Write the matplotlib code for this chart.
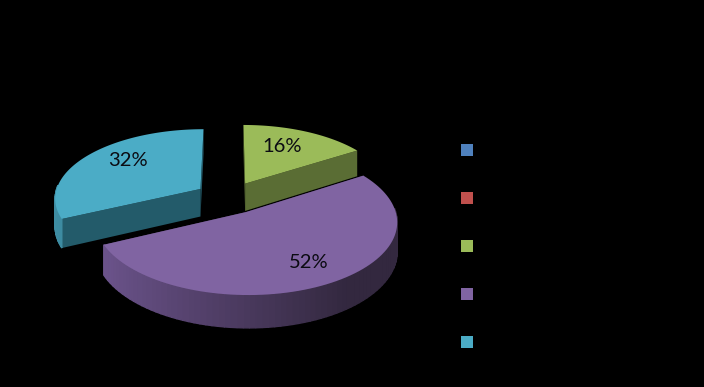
import numpy as np
import matplotlib
matplotlib.use("Agg")
import matplotlib.pyplot as plt

values = [0, 0, 16, 52, 32]
labels = ["", "", "16%", "52%", "32%"]
colors = ["#4F81BD", "#C0504D", "#9BBB59", "#8064A2", "#4BACC6"]
cut_colors = ["#2F4D71", "#73302E", "#5A6D34", "#4A3A5E", "#235B6A"]
side_left = ["#3F6797", "#9A403E", "#7C9647", "#6F5690", "#3E8DA3"]
side_right = ["#2A4565", "#662B29", "#4C5C2C", "#33283F", "#2A6D80"]
label_pos = [None, None, (282, 146), (309, 262), (128, 160)]
legend_y = [150, 198, 246, 294, 342]

# pie geometry, in pixels of the picture
cx, cy = 229, 197.5
rx, ry = 146, 69
persp = 0.122
depth = 28
explode = 0.235


def project(u, v, z=0):
	s = 1 / (1 - persp * v)
	return cx + rx * u * s, cy + ry * v * s + z * s


fig = plt.figure(figsize=(7.04, 3.87), dpi=100, facecolor="black")
ax = fig.add_axes([0, 0, 1, 1])
ax.set_xlim(0, 704)
ax.set_ylim(387, 0)
ax.axis("off")

total = sum(values)
start = 0
# back slices first so the purple one lies over them
order = [4, 2, 3]
angles = {}
for i, val in enumerate(values):
	angles[i] = (start, start + val / total * 2 * np.pi)
	start = angles[i][1]

for i in order:
	a0, a1 = angles[i]
	mid = (a0 + a1) / 2
	ou, ov = explode * np.sin(mid), -explode * np.cos(mid)
	t = np.linspace(a0, a1, 90)
	u = ou + np.sin(t)
	v = ov - np.cos(t)

	# cut faces
	for end in (a0, a1):
		eu, ev = ou + np.sin(end), ov - np.cos(end)
		p = [project(ou, ov), project(eu, ev), project(eu, ev, depth), project(ou, ov, depth)]
		ax.fill(*zip(*p), color=cut_colors[i], lw=0, zorder=i * 10 + 1)

	# outer wall, strip by strip so it can shade left to right
	c0 = np.array(matplotlib.colors.to_rgb(side_left[i]))
	c1 = np.array(matplotlib.colors.to_rgb(side_right[i]))
	for j in range(len(t) - 1):
		if v[j] - ov < -0.05 and v[j + 1] - ov < -0.05:
			continue
		mix = np.clip((np.sin(t[j]) + 1) / 1.6, 0, 1)
		p = [project(u[j], v[j]), project(u[j + 1], v[j + 1]),
			project(u[j + 1], v[j + 1], depth), project(u[j], v[j], depth)]
		ax.fill(*zip(*p), color=c0 + (c1 - c0) * mix, lw=1, zorder=i * 10 + 2)

	# top face
	top = [project(ou, ov)] + [project(a, b) for a, b in zip(u, v)]
	ax.fill(*zip(*top), color=colors[i], lw=0, zorder=i * 10 + 3)

	ax.text(label_pos[i][0], label_pos[i][1], labels[i], color="#0B0B12", fontsize=14.5,
		family="Lato", ha="center", va="center", zorder=100)

ax.scatter([467] * len(legend_y), legend_y, marker="s", s=81, c=colors, linewidths=0)

fig.savefig("out.png", dpi=100, facecolor="black")
